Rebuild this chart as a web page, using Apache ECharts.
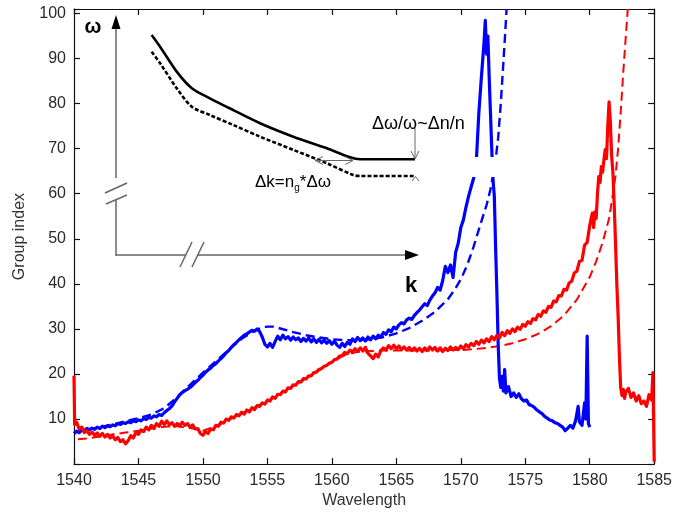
<!DOCTYPE html>
<html>
<head>
<meta charset="utf-8">
<script src="https://cdn.jsdelivr.net/npm/echarts@6/dist/echarts.min.js"></script>
<style>html,body{margin:0;padding:0;background:#fff}#c{width:675px;height:514px}</style>
</head>
<body>
<div id="c"></div>
<script>
// ---- data (wavelength nm, group index) ----
var xTicks = [1540,1545,1550,1555,1560,1565,1570,1575,1580,1585];
var yTicks = [10,20,30,40,50,60,70,80,90,100];

var blueMeasured = [
[1540.0,6.8],[1540.2,7.3],[1540.4,7.0],[1540.6,7.6],[1540.8,7.4],[1541.0,7.9],[1541.2,7.6],[1541.4,8.0],[1541.6,7.7],[1541.8,8.2],
[1542.0,7.9],[1542.2,8.4],[1542.4,8.1],[1542.6,8.5],[1542.8,8.3],[1543.0,8.7],[1543.2,8.5],[1543.4,9.0],[1543.6,8.8],[1543.8,9.2],
[1544.0,9.0],[1544.2,9.4],[1544.4,9.2],[1544.6,9.6],[1544.8,9.4],[1545.0,9.8],[1545.2,9.6],[1545.4,10.1],[1545.6,9.9],[1545.8,10.4],
[1546.0,10.2],[1546.2,10.7],[1546.4,10.5],[1546.6,11.0],[1546.8,10.8],[1547.0,11.4],[1547.2,11.9],[1547.4,12.3],[1547.6,12.9],[1547.8,13.8],
[1548.0,14.6],[1548.2,15.4],[1548.4,15.9],[1548.6,16.3],[1548.8,16.6],[1549.0,17.0],[1549.2,17.5],[1549.4,18.1],[1549.6,18.6],[1549.8,19.2],
[1550.0,19.7],[1550.2,20.4],[1550.4,20.9],[1550.6,21.3],[1550.8,21.9],[1551.0,22.3],[1551.2,22.9],[1551.4,23.4],[1551.6,24.0],[1551.8,24.7],
[1552.0,25.2],[1552.2,25.9],[1552.4,26.5],[1552.6,27.0],[1552.8,27.6],[1553.0,28.1],[1553.2,28.6],[1553.4,28.9],[1553.6,29.3],[1553.8,29.7],
[1554.0,29.5],[1554.2,30.0],[1554.4,29.4],[1554.6,28.2],[1554.8,26.6],[1555.0,26.0],[1555.2,26.8],[1555.4,25.9],[1555.6,27.2],[1555.8,28.4],
[1556.0,27.6],[1556.2,28.6],[1556.4,27.8],[1556.6,28.3],[1556.8,27.5],[1557.0,28.2],[1557.2,27.6],[1557.4,28.0],[1557.6,27.2],[1557.8,27.9],
[1558.0,27.3],[1558.2,28.0],[1558.4,27.1],[1558.6,27.8],[1558.8,27.0],[1559.0,27.7],[1559.2,26.9],[1559.4,27.5],[1559.6,26.8],[1559.8,27.4],
[1560.0,26.6],[1560.2,27.3],[1560.4,26.4],[1560.6,25.9],[1560.8,26.8],[1561.0,26.1],[1561.2,27.0],[1561.4,26.6],[1561.6,27.8],[1561.8,27.2],
[1562.0,28.1],[1562.2,27.4],[1562.4,28.0],[1562.6,27.3],[1562.8,28.2],[1563.0,27.6],[1563.2,28.4],[1563.4,27.8],[1563.6,28.6],[1563.8,28.2],
[1564.0,29.2],[1564.2,28.8],[1564.4,29.8],[1564.6,29.4],[1564.8,30.4],[1565.0,30.0],[1565.2,30.9],[1565.4,31.4],[1565.6,31.1],[1565.8,32.0],
[1566.0,32.4],[1566.2,32.1],[1566.4,33.0],[1566.6,33.6],[1566.8,34.2],[1567.0,34.9],[1567.2,35.6],[1567.4,35.2],[1567.6,36.4],[1567.8,37.3],
[1568.0,38.0],[1568.2,39.2],[1568.4,38.6],[1568.6,40.8],[1568.8,43.9],[1569.0,42.5],[1569.2,44.2],[1569.4,41.4],[1569.6,47.0],[1569.8,49.0],
[1570.0,52.5],[1570.2,54.2],[1570.4,57.0],[1570.6,59.4],[1570.8,61.5],[1571.0,63.5],[1571.2,67.0],[1571.4,78.0],[1571.6,86.0],[1571.8,93.5],
[1571.9,98.5],[1572.0,91.0],[1572.1,95.0],[1572.2,86.0],[1572.3,78.0],[1572.4,70.0],[1572.5,63.0],[1572.6,59.5],[1572.7,48.0],[1572.8,38.0],
[1572.9,26.5],[1573.0,19.0],[1573.1,17.0],[1573.2,19.5],[1573.3,16.2],[1573.4,21.0],[1573.5,15.8],[1573.7,17.2],[1573.9,15.0],[1574.1,15.8],
[1574.3,14.8],[1574.5,15.6],[1574.7,14.5],[1574.9,14.0],[1575.1,14.2],[1575.3,13.2],[1575.5,13.0],[1575.7,12.6],[1575.9,12.0],[1576.1,11.6],
[1576.3,11.2],[1576.5,10.6],[1576.7,10.2],[1576.9,9.8],[1577.1,9.6],[1577.3,9.2],[1577.5,9.0],[1577.7,8.6],[1577.9,8.2],[1578.1,7.4],
[1578.3,8.0],[1578.5,8.6],[1578.7,8.0],[1578.9,9.6],[1579.1,12.8],[1579.2,9.4],[1579.4,8.6],[1579.5,11.0],[1579.6,13.6],[1579.7,10.0],
[1579.8,28.4],[1579.9,9.0],[1580.0,8.2]
];

var blueSimulated = [
[1540.0,7.0],[1541,7.6],[1542,8.2],[1543,8.8],[1544,9.5],[1545,10.2],[1546,11.0],[1547,12.4],[1548,14.8],[1549,17.6],
[1550,20.3],[1551,22.8],[1552,25.4],[1553,27.8],[1554,29.6],[1554.5,30.2],[1555,30.5],[1555.5,30.5],[1556,30.1],[1557,29.3],
[1558,28.6],[1559,28.1],[1560,27.7],[1561,27.5],[1562,27.5],[1563,27.7],[1564,28.2],[1565,29.0],[1566,30.2],[1567,31.8],
[1568,33.8],[1569,36.6],[1569.5,38.6],[1570,41.0],[1570.5,44.2],[1571,48.3],[1571.5,53.0],[1572,57.5],[1572.3,61.0],[1572.5,64.0],
[1572.7,67.5],[1572.9,72.5],[1573.1,80.0],[1573.3,89.0],[1573.45,96.0],[1573.55,101.0]
];

var redMeasured = [
[1540.0,19.6],[1540.05,8.8],[1540.2,9.3],[1540.4,7.8],[1540.6,8.2],[1540.8,7.0],[1541.0,7.4],[1541.2,6.6],[1541.4,7.1],[1541.6,6.4],
[1541.8,6.9],[1542.0,6.2],[1542.2,6.8],[1542.4,6.0],[1542.6,6.6],[1542.8,5.8],[1543.0,6.3],[1543.2,5.4],[1543.4,5.9],[1543.6,5.0],
[1543.8,5.4],[1544.0,4.5],[1544.2,5.2],[1544.4,6.3],[1544.6,5.8],[1544.8,7.0],[1545.0,6.6],[1545.2,7.6],[1545.4,7.2],[1545.6,8.2],
[1545.8,7.6],[1546.0,8.6],[1546.2,7.9],[1546.4,9.0],[1546.6,8.4],[1546.8,9.5],[1547.0,8.8],[1547.2,9.6],[1547.4,8.7],[1547.6,9.2],
[1547.8,8.4],[1548.0,9.0],[1548.2,8.5],[1548.4,9.3],[1548.6,8.6],[1548.8,9.0],[1549.0,8.2],[1549.2,8.7],[1549.4,7.8],[1549.6,7.9],
[1549.8,6.8],[1550.0,6.4],[1550.2,7.2],[1550.4,6.8],[1550.6,7.8],[1550.8,7.6],[1551.0,8.6],[1551.2,8.4],[1551.4,9.3],[1551.6,9.1],
[1551.8,10.0],[1552.0,9.7],[1552.2,10.5],[1552.4,10.2],[1552.6,11.0],[1552.8,10.7],[1553.0,11.5],[1553.2,11.1],[1553.4,12.0],[1553.6,11.6],
[1553.8,12.5],[1554.0,12.1],[1554.2,13.0],[1554.4,12.8],[1554.6,13.6],[1554.8,13.3],[1555.0,14.2],[1555.2,14.0],[1555.4,14.9],[1555.6,14.6],
[1555.8,15.5],[1556.0,15.4],[1556.2,16.2],[1556.4,16.0],[1556.6,16.9],[1556.8,16.8],[1557.0,17.6],[1557.2,17.5],[1557.4,18.3],[1557.6,18.2],
[1557.8,19.0],[1558.0,18.9],[1558.2,19.6],[1558.4,19.6],[1558.6,20.3],[1558.8,20.4],[1559.0,21.0],[1559.2,21.2],[1559.4,21.7],[1559.6,21.9],
[1559.8,22.4],[1560.0,22.6],[1560.2,23.2],[1560.4,23.3],[1560.6,24.0],[1560.8,24.1],[1561.0,24.8],[1561.2,24.5],[1561.4,25.3],[1561.6,24.9],
[1561.8,25.6],[1562.0,25.0],[1562.2,25.8],[1562.4,25.1],[1562.6,25.9],[1562.8,24.6],[1563.0,24.0],[1563.2,23.4],[1563.4,24.4],[1563.6,23.8],
[1563.8,25.2],[1564.0,25.8],[1564.2,25.3],[1564.4,26.3],[1564.6,25.6],[1564.8,26.4],[1565.0,25.6],[1565.2,26.2],[1565.4,25.4],[1565.6,26.0],
[1565.8,25.3],[1566.0,25.9],[1566.2,25.2],[1566.4,25.8],[1566.6,25.1],[1566.8,25.7],[1567.0,25.0],[1567.2,25.8],[1567.4,25.2],[1567.6,26.0],
[1567.8,25.3],[1568.0,25.9],[1568.2,25.1],[1568.4,25.8],[1568.6,25.0],[1568.8,25.7],[1569.0,25.2],[1569.2,26.0],[1569.4,25.3],[1569.6,25.9],
[1569.8,25.4],[1570.0,26.2],[1570.2,25.6],[1570.4,26.5],[1570.6,26.0],[1570.8,26.8],[1571.0,26.3],[1571.2,27.2],[1571.4,26.6],[1571.6,27.5],
[1571.8,26.9],[1572.0,27.8],[1572.2,27.2],[1572.4,28.3],[1572.6,27.6],[1572.8,28.6],[1573.0,28.0],[1573.2,29.2],[1573.4,28.5],[1573.6,29.6],
[1573.8,29.0],[1574.0,30.0],[1574.2,29.4],[1574.4,30.4],[1574.6,29.9],[1574.8,31.0],[1575.0,30.6],[1575.2,31.6],[1575.4,31.2],[1575.6,32.3],
[1575.8,32.0],[1576.0,33.2],[1576.2,32.8],[1576.4,34.0],[1576.6,33.7],[1576.8,35.0],[1577.0,34.8],[1577.2,36.2],[1577.4,36.0],[1577.6,37.4],
[1577.8,37.3],[1578.0,38.8],[1578.2,38.6],[1578.4,40.2],[1578.6,40.6],[1578.8,42.4],[1579.0,42.8],[1579.2,45.0],[1579.4,45.2],[1579.6,48.6],
[1579.8,49.2],[1580.0,53.0],[1580.2,55.7],[1580.3,52.5],[1580.4,56.0],[1580.5,54.5],[1580.6,60.0],[1580.7,63.8],[1580.8,62.5],[1580.9,66.0],
[1581.0,64.8],[1581.1,67.5],[1581.2,69.8],[1581.3,67.8],[1581.4,75.0],[1581.5,80.4],[1581.6,76.0],[1581.7,68.3],[1581.8,64.6],[1581.9,57.5],
[1582.0,49.0],[1582.1,40.0],[1582.2,33.0],[1582.3,24.0],[1582.4,17.0],[1582.5,15.2],[1582.6,16.6],[1582.7,14.6],[1582.8,16.0],[1583.0,16.8],
[1583.2,14.8],[1583.4,15.8],[1583.6,14.0],[1583.8,15.2],[1584.0,13.4],[1584.2,14.0],[1584.4,12.8],[1584.6,15.4],[1584.8,14.2],[1584.9,20.3],
[1585.0,0.5]
];

var redSimulated = [
[1540.3,5.5],[1541,5.7],[1542,6.1],[1543,6.6],[1544,7.0],[1545,7.4],[1546,7.9],[1547,8.3],[1548,8.4],[1549,8.0],
[1550,7.4],[1551,8.4],[1552,9.8],[1553,11.2],[1554,12.6],[1555,14.0],[1556,15.6],[1557,17.3],[1558,19.0],[1559,20.8],
[1560,22.6],[1561,24.2],[1562,24.9],[1563,25.1],[1564,25.2],[1565,25.2],[1566,25.2],[1567,25.2],[1568,25.2],[1569,25.3],
[1570,25.3],[1571,25.5],[1572,25.8],[1573,26.2],[1574,26.8],[1575,27.7],[1576,28.9],[1577,30.6],[1578,33.0],[1579,36.5],
[1580,41.5],[1580.5,45.0],[1581,49.2],[1581.5,54.5],[1581.8,60.0],[1582.0,64.0],[1582.2,70.0],[1582.4,78.0],[1582.6,87.0],[1582.8,95.0],
[1582.95,101]
];

// inset schematic: dispersion curves (k, omega) in arbitrary units 0..10
var insetBand1 = [[1.18,9.17],[1.46,8.68],[2.01,7.64],[2.51,6.95],[3.11,6.53],[3.88,6.04],[4.77,5.49],[5.87,4.93],[6.98,4.45],[7.75,4.07],[8.08,3.99],[9.90,3.99]];
var insetBand2 = [[1.18,8.47],[1.46,7.99],[2.01,6.95],[2.51,6.18],[3.11,5.83],[3.88,5.42],[4.77,4.93],[5.87,4.38],[6.98,3.82],[7.86,3.33],[8.08,3.29],[9.90,3.29]];

var chart = echarts.init(document.getElementById('c'), null, {renderer: 'canvas'});
var FONT = 'Arial, "Liberation Sans", sans-serif';
var AX = '#111';
var GRAY = '#666';

function boxAxis(pos, showLabel, isX) {
  var a = {
    type: 'value',
    position: pos,
    gridIndex: 0,
    axisLine: {show: true, onZero: false, lineStyle: {color: AX, width: 1.2}},
    axisTick: {show: true, inside: true, length: 6, lineStyle: {color: AX, width: 1.2}},
    splitLine: {show: false},
    axisLabel: {show: showLabel, color: '#2a2a2a', fontSize: 16, fontFamily: FONT, margin: 8}
  };
  if (isX) {
    a.min = 1540; a.max = 1585; a.interval = 5;
  } else {
    a.min = 0; a.max = 101; a.interval = 10;
    a.axisLabel.formatter = function (v) { return (yTicks.indexOf(v) >= 0) ? String(v) : ''; };
  }
  return a;
}

var xMain = boxAxis('bottom', true, true);
xMain.name = 'Wavelength';
xMain.nameLocation = 'middle';
xMain.nameGap = 24;
xMain.nameTextStyle = {color: '#333', fontSize: 16, fontFamily: FONT};
xMain.axisLabel.formatter = function (v) { return xTicks.indexOf(v) >= 0 ? String(v) : ''; };
var xTop = boxAxis('top', false, true);
var yMain = boxAxis('left', true, false);
yMain.name = 'Group index';
yMain.nameLocation = 'middle';
yMain.nameGap = 46;
yMain.nameTextStyle = {color: '#333', fontSize: 16, fontFamily: FONT};
var yRight = boxAxis('right', false, false);

var hiddenAxis = function (grid) {
  return {type: 'value', gridIndex: grid, min: 0, max: 10, show: false};
};

var option = {
  animation: false,
  backgroundColor: '#fff',
  grid: [
    {left: 74, right: 19, top: 9, bottom: 49},
    {left: 116, top: 15, width: 302, height: 240}
  ],
  xAxis: [xMain, xTop, hiddenAxis(1)],
  yAxis: [yMain, yRight, hiddenAxis(1)],
  series: [
    {type: 'line', name: 'blue sim', xAxisIndex: 0, yAxisIndex: 0, data: blueSimulated, showSymbol: false, clip: true, z: 3,
      lineStyle: {color: '#0000ff', width: 2.4, type: [9, 5]}},
    {type: 'line', name: 'red sim', xAxisIndex: 0, yAxisIndex: 0, data: redSimulated, showSymbol: false, clip: true, z: 3,
      lineStyle: {color: '#ff0000', width: 2, type: [9, 5]}},
    {type: 'line', name: 'blue meas', xAxisIndex: 0, yAxisIndex: 0, data: blueMeasured, showSymbol: false, clip: true, z: 4,
      lineStyle: {color: '#0000ff', width: 3.2, join: 'round'}},
    {type: 'line', name: 'red meas', xAxisIndex: 0, yAxisIndex: 0, data: redMeasured, showSymbol: false, clip: true, z: 4,
      lineStyle: {color: '#ff0000', width: 3.2, join: 'round'}},
    {type: 'line', name: 'band1', xAxisIndex: 2, yAxisIndex: 2, data: insetBand1, showSymbol: false, smooth: 0.3, z: 10,
      lineStyle: {color: '#000', width: 2.6}},
    {type: 'line', name: 'band2', xAxisIndex: 2, yAxisIndex: 2, data: insetBand2, showSymbol: false, smooth: 0.3, z: 10,
      lineStyle: {color: '#000', width: 2.6, type: [4, 2]}}
  ],
  graphic: [
    // white band of pasted inset over the curves
    {type: 'rect', z: 50, shape: {x: 430, y: 157, width: 82, height: 20}, style: {fill: '#fff'}},
    // omega axis (broken)
    {type: 'line', z: 60, shape: {x1: 116, y1: 256, x2: 116, y2: 200}, style: {stroke: GRAY, lineWidth: 1.5}},
    {type: 'line', z: 60, shape: {x1: 116, y1: 178, x2: 116, y2: 27}, style: {stroke: GRAY, lineWidth: 1.5}},
    {type: 'polygon', z: 60, shape: {points: [[111.5, 29], [120.5, 29], [116, 15]]}, style: {fill: '#000'}},
    {type: 'line', z: 60, shape: {x1: 105, y1: 193, x2: 127, y2: 183}, style: {stroke: GRAY, lineWidth: 1.5}},
    {type: 'line', z: 60, shape: {x1: 106, y1: 204, x2: 127, y2: 195}, style: {stroke: GRAY, lineWidth: 1.5}},
    // k axis (broken)
    {type: 'line', z: 60, shape: {x1: 116, y1: 255, x2: 186, y2: 255}, style: {stroke: GRAY, lineWidth: 1.5}},
    {type: 'line', z: 60, shape: {x1: 197, y1: 255, x2: 408, y2: 255}, style: {stroke: GRAY, lineWidth: 1.5}},
    {type: 'polygon', z: 60, shape: {points: [[405, 250], [405, 260], [419, 255]]}, style: {fill: '#000'}},
    {type: 'line', z: 60, shape: {x1: 180, y1: 267, x2: 192, y2: 242}, style: {stroke: GRAY, lineWidth: 1.5}},
    {type: 'line', z: 60, shape: {x1: 192, y1: 267, x2: 204, y2: 242}, style: {stroke: GRAY, lineWidth: 1.5}},
    // delta-k double arrow
    {type: 'line', z: 60, shape: {x1: 315, y1: 160.5, x2: 353, y2: 160.5}, style: {stroke: GRAY, lineWidth: 1}},
    {type: 'polyline', z: 60, shape: {points: [[323, 156.5], [315, 160.5], [323, 164.5]]}, style: {stroke: GRAY, lineWidth: 1, fill: null}},
    {type: 'polyline', z: 60, shape: {points: [[345, 156.5], [353, 160.5], [345, 164.5]]}, style: {stroke: GRAY, lineWidth: 1, fill: null}},
    // delta-omega down arrow
    {type: 'line', z: 60, shape: {x1: 415, y1: 128, x2: 415, y2: 159}, style: {stroke: GRAY, lineWidth: 1}},
    {type: 'polyline', z: 60, shape: {points: [[411, 151], [415, 159], [419, 151]]}, style: {stroke: GRAY, lineWidth: 1, fill: null}},
    {type: 'polyline', z: 60, shape: {points: [[412, 181], [415.5, 176.5], [419, 181]]}, style: {stroke: GRAY, lineWidth: 1, fill: null}},
    // labels
    {type: 'text', z: 60, x: 93, y: 27, style: {text: 'ω', font: 'bold 20px ' + FONT, fill: '#000', align: 'center', verticalAlign: 'middle'}},
    {type: 'text', z: 60, x: 411, y: 286, style: {text: 'k', font: 'bold 22px ' + FONT, fill: '#000', align: 'center', verticalAlign: 'middle'}},
    {type: 'text', z: 60, x: 372, y: 124, style: {text: 'Δω/ω~Δn/n', font: '18px ' + FONT, fill: '#000', align: 'left', verticalAlign: 'middle'}},
    {type: 'text', z: 60, x: 255, y: 182, style: {
      text: '{a|Δk=n}{s|g}{a|*Δω}', align: 'left', verticalAlign: 'middle',
      rich: {
        a: {font: '17px ' + FONT, fill: '#000', lineHeight: 22, verticalAlign: 'middle'},
        s: {font: '10px ' + FONT, fill: '#000', lineHeight: 22, verticalAlign: 'bottom'}
      }
    }}
  ]
};
chart.setOption(option);
</script>
</body>
</html>
